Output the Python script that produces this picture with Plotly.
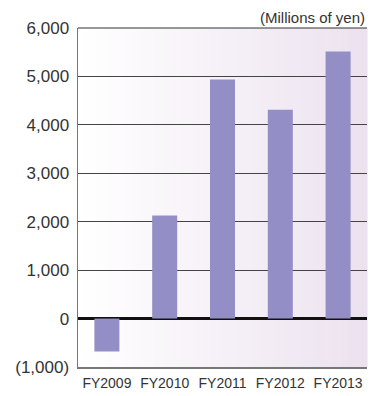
import plotly.graph_objects as go

categories = ["FY2009", "FY2010", "FY2011", "FY2012", "FY2013"]
values = [-680, 2130, 4935, 4310, 5515]
tick_values = [-1000, 0, 1000, 2000, 3000, 4000, 5000, 6000]
tick_labels = ["(1,000)", "0", "1,000", "2,000", "3,000", "4,000", "5,000", "6,000"]
unit_label = "(Millions of yen)"

x_idx = list(range(len(categories)))

fig = go.Figure()
fig.add_trace(go.Bar(x=x_idx, y=values, marker=dict(color="#938fc6", line=dict(width=0)),
                     hoverinfo="skip"))

# background gradient strips (white -> light lavender)
n = 80
c0 = (255, 255, 255)
c1 = (236, 226, 239)
shapes = []
for i in range(n):
    t = i / (n - 1)
    col = tuple(round(c0[k] + (c1[k] - c0[k]) * t) for k in range(3))
    shapes.append(dict(type="rect", xref="paper", yref="paper",
                       x0=i / n, x1=(i + 1) / n + 0.002, y0=0, y1=1,
                       fillcolor="rgb(%d,%d,%d)" % col, line=dict(width=0), layer="below"))
# top frame line
shapes.append(dict(type="line", xref="paper", yref="paper", x0=0, x1=1, y0=1, y1=1,
                   line=dict(color="#333333", width=1.2), layer="above"))

font = "Liberation Sans, Arial, sans-serif"
fig.update_layout(
    width=379, height=396,
    margin=dict(l=78, r=12, t=28, b=29, autoexpand=False),
    paper_bgcolor="white", plot_bgcolor="rgba(0,0,0,0)",
    showlegend=False, bargap=0.567,
    shapes=shapes,
    font=dict(family=font, color="#333333"),
    annotations=[dict(text=unit_label, xref="paper", yref="paper", x=1.0, y=1.0,
                      xanchor="right", yanchor="bottom", yshift=0, showarrow=False,
                      font=dict(size=15, family=font, color="#333333"))],
)
fig.update_xaxes(range=[-0.5, 4.5], tickmode="array", tickvals=x_idx, ticktext=categories,
                 tickangle=0, automargin=False, ticklabelstandoff=3,
                 showgrid=False, zeroline=False, showline=True, linecolor="#777777", linewidth=1.5,
                 ticks="", tickfont=dict(size=14, family=font, color="#333333"))
fig.update_yaxes(range=[-1000, 6000], tickmode="array", tickvals=tick_values, ticktext=tick_labels,
                 automargin=False,
                 showgrid=True, gridcolor="#444444", gridwidth=1,
                 zeroline=True, zerolinecolor="#111111", zerolinewidth=2.5,
                 showline=True, linecolor="#777777", linewidth=1.5, ticks="",
                 ticklabelstandoff=4, tickfont=dict(size=17, color="#333333"))

fig.write_html("out.html", config={"displayModeBar": False, "staticPlot": True},
               post_script="document.body.style.margin='0';document.body.style.overflow='hidden';")
